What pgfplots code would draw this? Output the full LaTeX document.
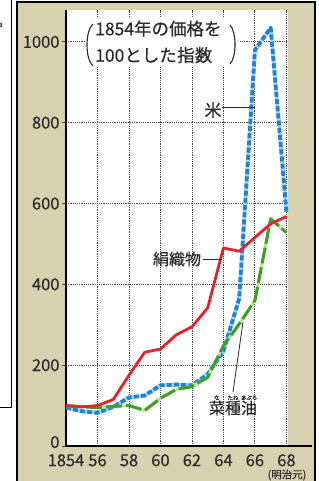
\documentclass[border=0pt]{standalone}
\usepackage{fontspec}
\setmainfont{Noto Sans CJK JP}[FakeBold=0.35]
\usepackage{pgfplots}
\usepackage{pgfplotstable}
\pgfplotsset{compat=1.18}
\usetikzlibrary{calc}
\definecolor{beige}{HTML}{D8D1B0}
\definecolor{silkred}{HTML}{E3222B}
\definecolor{riceblue}{HTML}{1F82D2}
\definecolor{riceblueL}{HTML}{A8D4F2}
\definecolor{oilgreen}{HTML}{3E9E2C}
\definecolor{oilgreenL}{HTML}{C4DF9A}
\definecolor{txt}{HTML}{2A2A2A}
\definecolor{gridc}{HTML}{484848}

\pgfplotstableread{
year rice silk oil
1854 95 100 100
1855 86 97 97
1856 82 100 95
1857 97 115 98
1858 120 175 100
1859 125 232 88
1860 150 240 118
1861 152 275 140
1862 150 295 147
1863 178 342 170
1864 235 490 248
1865 365 482 302
1866 980 516 360
1867 1035 550 562
1868 580 568 528
}\pricedata

\begin{document}
\begin{tikzpicture}[x=1pt,y=1pt]
\useasboundingbox (0,0) rectangle (318,481);
\fill[white] (0,0) rectangle (318,481);
% left neighbouring panel
\draw[black, line width=1pt] (-2,73) -- (11,73) -- (11,483);
\node[font=\fontsize{6}{6}\selectfont, text=txt] at (1,456) {3};
% main panel
\fill[beige] (17,-2) rectangle (315,479);
\draw[black, line width=1.6pt] (17,-5) -- (17,479) -- (315,479) -- (315,-5);

\begin{axis}[
  at={(66pt,35pt)}, anchor=south west, scale only axis,
  width=222pt, height=436pt,
  xmin=1854, xmax=1868.1, ymin=0, ymax=1079,
  axis background/.style={fill=white},
  axis lines*=left,
  axis line style={black, line width=1.3pt},
  xtick={1854,1856,...,1868},
  xticklabels={1854,56,58,60,62,64,66,68},
  ytick={0,200,...,1000},
  yticklabels={{\raisebox{8pt}{0}},200,400,600,800,1000},
  grid=major,
  major grid style={gridc, line width=0.9pt, dash pattern=on 1.1pt off 1.1pt},
  xtick style={draw=none},
  ytick style={gridc, line width=0.9pt},
  major tick length=4pt, tick align=outside,
  ticklabel style={font=\fontsize{16.5}{17}\selectfont, text=txt},
  xticklabel style={inner sep=1pt, yshift=-3pt},
  yticklabel style={xshift=1pt},
]
\addplot[riceblueL, line width=3.8pt, line join=round,
  postaction={draw=riceblue, line width=3.8pt, dash pattern=on 5pt off 2.2pt}]
  table[x=year, y=rice]{\pricedata};
\addplot[oilgreenL, line width=3pt, line join=round,
  postaction={draw=oilgreen, line width=3pt, dash pattern=on 16pt off 4pt}]
  table[x=year, y=oil]{\pricedata};
\addplot[silkred, line width=2.8pt, line join=round]
  table[x=year, y=silk]{\pricedata};
\end{axis}

% extension of the x axis line
\draw[black, line width=1.3pt] (287,35) -- (312,35);
\node[font=\fontsize{10.5}{10.5}\selectfont, text=txt, inner sep=0.5pt] at (287,6) {(明治元)};

% title box
\fill[white] (85,414) rectangle (239,464);
\draw[txt, line width=1.1pt] (93,457) .. controls (85,450) and (85,422) .. (93,415);
\draw[txt, line width=1.1pt] (230,456) .. controls (236.7,449) and (236.7,424) .. (230,417);
\begin{scope}[every node/.style={inner sep=0pt, text=txt, font=\fontsize{17.5}{18}\selectfont, text height=12pt, text depth=1.5pt}]
\node[anchor=west] at (95,451) {1854年の価格を};
\node[anchor=west] (l2a) at (95,424.5) {100とした};
\node[anchor=base west] (sisu) at (l2a.base east) {指数};
\end{scope}
\node[font=\fontsize{5}{5}\selectfont, text=txt, inner sep=0pt, text height=3.4pt, text depth=0.3pt] at ($(sisu.west)!0.25!(sisu.east)$ |- 0,439) {し};
\node[font=\fontsize{5}{5}\selectfont, text=txt, inner sep=0pt, text height=3.4pt, text depth=0.3pt] at ($(sisu.west)!0.75!(sisu.east)$ |- 0,439) {すう};

% series labels
\node[font=\fontsize{17}{17}\selectfont, text=txt] at (213,371) {米};
\draw[txt, line width=0.8pt] (222,374) -- (255,374);
\node[font=\fontsize{16}{16}\selectfont, text=txt] at (177,222) {絹織物};
\draw[txt, line width=0.8pt] (203,222) -- (222,222);
\node[font=\fontsize{16}{16}\selectfont, text=txt, inner sep=0pt, text height=12pt, text depth=2pt] (nat) at (233,72) {菜種油};
\node[font=\fontsize{5.5}{5.5}\selectfont, text=txt, inner sep=0pt] at ($(nat.north west)!0.1667!(nat.north east)+(0,4)$) {な};
\node[font=\fontsize{5.5}{5.5}\selectfont, text=txt, inner sep=0pt] at ($(nat.north west)!0.5!(nat.north east)+(0,4)$) {たね};
\node[font=\fontsize{5.5}{5.5}\selectfont, text=txt, inner sep=0pt] at ($(nat.north west)!0.8333!(nat.north east)+(0,4)$) {あぶら};
\draw[txt, line width=0.8pt] (233,89) -- (243,159);
\end{tikzpicture}
\end{document}
